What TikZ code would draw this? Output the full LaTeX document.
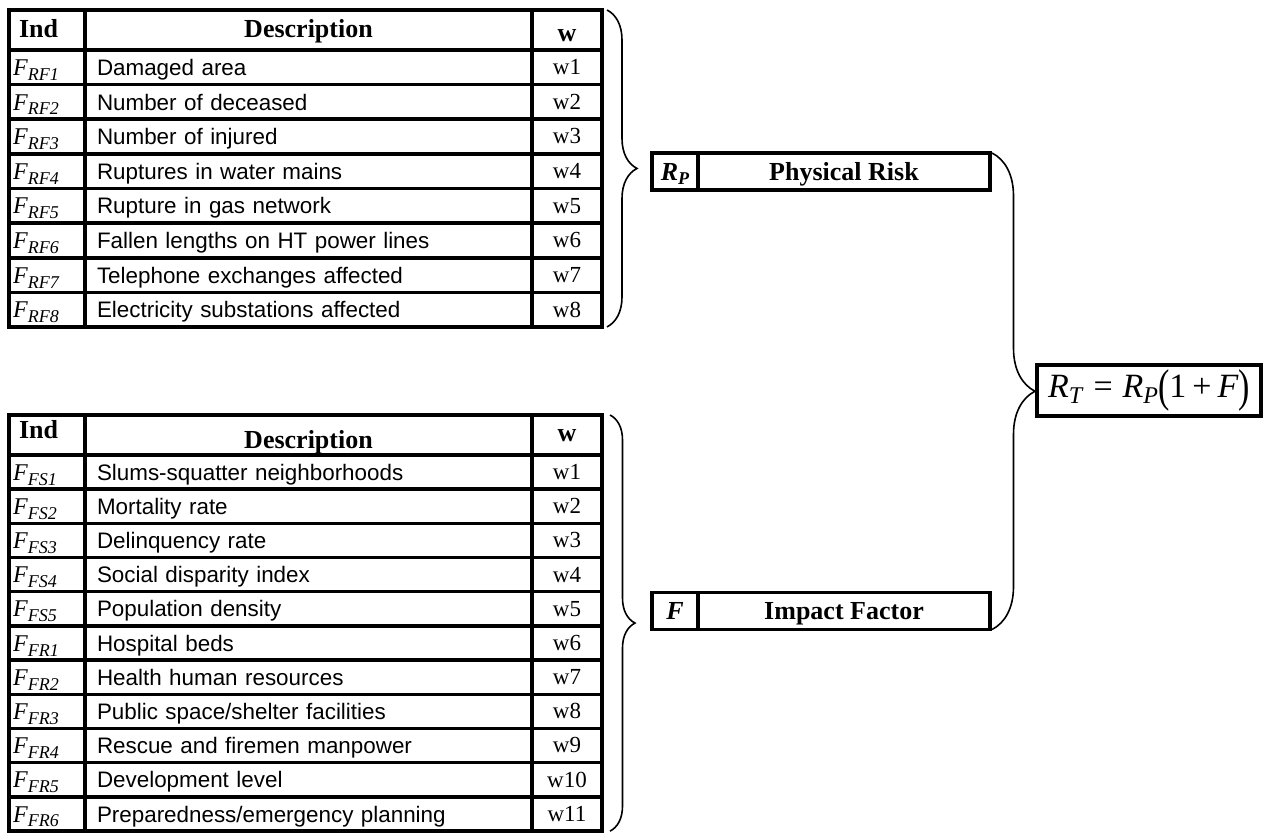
\documentclass[tikz,border=0pt]{standalone}
\usepackage{fontspec}
\setmainfont{Liberation Serif}
\setsansfont{Liberation Sans}
\usepackage{graphicx}
\usetikzlibrary{decorations.pathreplacing}
\newcommand{\fsub}[1]{\textit{F}\raisebox{-2.4pt}{\fontsize{9}{9}\selectfont\textit{#1}}}
\newcommand{\bsub}[2]{\textbf{\textit{#1}}\raisebox{-2pt}{\fontsize{9}{9}\selectfont\textbf{\textit{#2}}}}
\begin{document}
\begin{tikzpicture}[x=0.5pt, y=-0.5pt,%
cell/.style={draw, line width=1.65pt, inner sep=0pt, outer sep=0pt, text depth=0pt},
ind/.style={cell, minimum width=38pt, minimum height=17.2pt, text width=34pt, align=left, text height=#1, font=\fontsize{12}{14}\selectfont}, ind/.default=8.2pt,
desc/.style={cell, minimum width=223.5pt, minimum height=17.2pt, text width=211.5pt, align=left, text height=#1, font=\sffamily\fontsize{11.2}{13}\selectfont}, desc/.default=8.2pt,
wt/.style={cell, minimum width=35pt, minimum height=17.2pt, text height=#1, font=\fontsize{11.5}{13}\selectfont}, wt/.default=7.4pt,
head/.style={cell, minimum height=20pt, text height=#1, font=\bfseries\fontsize{13}{15}\selectfont}, head/.default=8pt,
box/.style={cell, minimum height=18.5pt, font=\bfseries\fontsize{13}{15}\selectfont},
result/.style={draw, line width=2pt, inner sep=0pt, outer sep=0pt, minimum width=112pt, minimum height=25.5pt, font=\fontsize{17}{20}\selectfont},
curly/.style={decorate, decoration={brace, amplitude=#1}, line width=0.8pt}, curly/.default=15pt]%
\useasboundingbox (0,0) rectangle (1263,833);
\begin{scope}% physical risk indicators
\node[head=8pt, minimum width=38pt, text width=28pt, align=left] (hi) at (47,30) {Ind};
\node[head=8pt, minimum width=223.5pt] (hd) at (308.5,30) {Description};
\node[head=12pt, minimum width=35pt] (hw) at (567,30) {w};
\node[ind] (i1) at (47,67.3) {\fsub{RF1}};
\node[desc] (d1) at (308.5,67.3) {Damaged area};
\node[wt] (w1) at (567,67.3) {w1};
\node[ind] (i2) at (47,101.9) {\fsub{RF2}};
\node[desc] (d2) at (308.5,101.9) {Number of deceased};
\node[wt] (w2) at (567,101.9) {w2};
\node[ind] (i3) at (47,136.6) {\fsub{RF3}};
\node[desc] (d3) at (308.5,136.6) {Number of injured};
\node[wt] (w3) at (567,136.6) {w3};
\node[ind] (i4) at (47,171.2) {\fsub{RF4}};
\node[desc] (d4) at (308.5,171.2) {Ruptures in water mains};
\node[wt] (w4) at (567,171.2) {w4};
\node[ind] (i5) at (47,205.8) {\fsub{RF5}};
\node[desc] (d5) at (308.5,205.8) {Rupture in gas network};
\node[wt] (w5) at (567,205.8) {w5};
\node[ind] (i6) at (47,240.4) {\fsub{RF6}};
\node[desc] (d6) at (308.5,240.4) {Fallen lengths on HT power lines};
\node[wt] (w6) at (567,240.4) {w6};
\node[ind] (i7) at (47,275.1) {\fsub{RF7}};
\node[desc] (d7) at (308.5,275.1) {Telephone exchanges affected};
\node[wt] (w7) at (567,275.1) {w7};
\node[ind] (i8) at (47,309.7) {\fsub{RF8}};
\node[desc] (d8) at (308.5,309.7) {Electricity substations affected};
\node[wt] (w8) at (567,309.7) {w8};
\end{scope}
\begin{scope}% impact factor indicators
\node[head=4pt, minimum width=38pt, text width=28pt, align=left] (bhi) at (47,435) {Ind};
\node[head=14pt, minimum width=223.5pt] (bhd) at (308.5,435) {Description};
\node[head=7pt, minimum width=35pt] (bhw) at (567,435) {w};
\node[ind] (bi1) at (47,472.1) {\fsub{FS1}};
\node[desc] (bd1) at (308.5,472.1) {Slums-squatter neighborhoods};
\node[wt] (bw1) at (567,472.1) {w1};
\node[ind] (bi2) at (47,506.3) {\fsub{FS2}};
\node[desc] (bd2) at (308.5,506.3) {Mortality rate};
\node[wt] (bw2) at (567,506.3) {w2};
\node[ind] (bi3) at (47,540.5) {\fsub{FS3}};
\node[desc] (bd3) at (308.5,540.5) {Delinquency rate};
\node[wt] (bw3) at (567,540.5) {w3};
\node[ind] (bi4) at (47,574.6) {\fsub{FS4}};
\node[desc] (bd4) at (308.5,574.6) {Social disparity index};
\node[wt] (bw4) at (567,574.6) {w4};
\node[ind] (bi5) at (47,608.8) {\fsub{FS5}};
\node[desc] (bd5) at (308.5,608.8) {Population density};
\node[wt] (bw5) at (567,608.8) {w5};
\node[ind] (bi6) at (47,643) {\fsub{FR1}};
\node[desc] (bd6) at (308.5,643) {Hospital beds};
\node[wt] (bw6) at (567,643) {w6};
\node[ind] (bi7) at (47,677.2) {\fsub{FR2}};
\node[desc] (bd7) at (308.5,677.2) {Health human resources};
\node[wt] (bw7) at (567,677.2) {w7};
\node[ind] (bi8) at (47,711.4) {\fsub{FR3}};
\node[desc] (bd8) at (308.5,711.4) {Public space/shelter facilities};
\node[wt] (bw8) at (567,711.4) {w8};
\node[ind] (bi9) at (47,745.5) {\fsub{FR4}};
\node[desc] (bd9) at (308.5,745.5) {Rescue and firemen manpower};
\node[wt] (bw9) at (567,745.5) {w9};
\node[ind] (bi10) at (47,779.7) {\fsub{FR5}};
\node[desc] (bd10) at (308.5,779.7) {Development level};
\node[wt] (bw10) at (567,779.7) {w10};
\node[ind] (bi11) at (47,813.9) {\fsub{FR6}};
\node[desc] (bd11) at (308.5,813.9) {Preparedness/emergency planning};
\node[wt] (bw11) at (567,813.9) {w11};
\end{scope}
% risk boxes
\node[box, minimum width=23pt] (rp) at (675,171.5) {\bsub{R}{P}};
\node[box, minimum width=146pt] (phys) at (844,171.5) {Physical Risk};
\node[box, minimum width=23pt] (f) at (675,611) {\textbf{\textit{F}}};
\node[box, minimum width=146pt] (impf) at (844,611) {Impact Factor};
\node[result] (rt) at (1149,390.5) {\textit{R}\raisebox{-3pt}{\fontsize{12}{12}\selectfont\textit{T}}\hspace{5pt}=\hspace{5pt}\textit{R}\raisebox{-3pt}{\fontsize{12}{12}\selectfont\textit{P}}\raisebox{-2pt}{\scalebox{1}[1.35]{(}}1\hspace{3pt}+\hspace{3pt}\textit{F}\raisebox{-2pt}{\scalebox{1}[1.35]{)}}};
% braces
\draw[curly=15pt] ([xshift=2.5pt]hw.north east) -- ([xshift=2.5pt]w8.south east);
\draw[curly=12.5pt] ([xshift=4pt]bhw.north east) -- ([xshift=4pt]bw11.south east);
\draw[curly=21.5pt] ([xshift=1pt]phys.north east) -- ([xshift=1pt]impf.south east);
\end{tikzpicture}
\end{document}
